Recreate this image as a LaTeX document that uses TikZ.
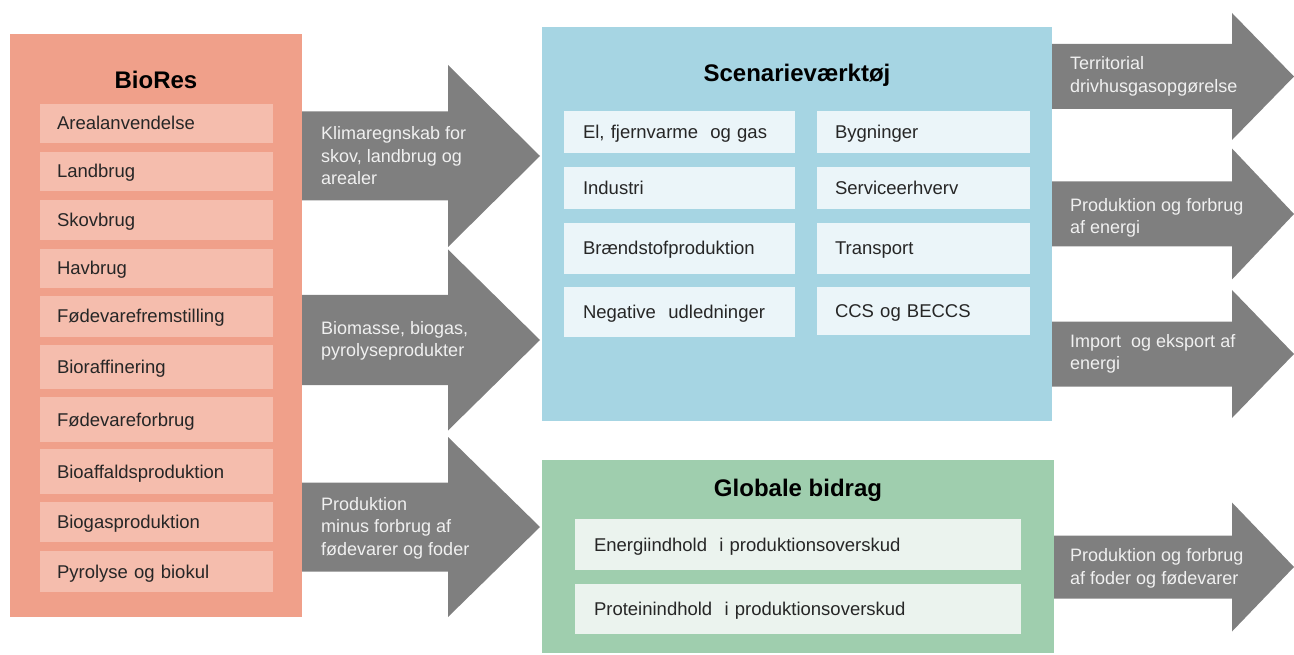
\documentclass[tikz,border=0pt]{standalone}
\usepackage{fontspec}
\setmainfont{Liberation Sans}

\definecolor{bioouter}{RGB}{240,160,138}
\definecolor{bioinner}{RGB}{245,189,173}
\definecolor{scenouter}{RGB}{166,213,227}
\definecolor{sceninner}{RGB}{235,245,249}
\definecolor{globouter}{RGB}{159,206,174}
\definecolor{globinner}{RGB}{235,243,238}
\definecolor{flowgray}{RGB}{127,127,127}
\definecolor{flowtext}{RGB}{240,240,240}

\tikzset{
  outerbox/.style = {inner sep=0pt},
  boxtitle/.style = {inner sep=0pt, font=\fontsize{24}{28}\selectfont\bfseries},
  item/.style     = {inner ysep=0pt, text height=15pt, text depth=2pt, align=left, text=black!85, font=\fontsize{18.5}{22}\selectfont},
  bioitem/.style  = {item, fill=bioinner, minimum width=233, text width=199pt, inner xsep=17pt},
  scenleft/.style = {item, fill=sceninner, minimum width=231, text width=193pt, inner xsep=19pt},
  scenright/.style= {item, fill=sceninner, minimum width=213, text width=177pt, inner xsep=18pt},
  globitem/.style = {item, fill=globinner, minimum width=446, text width=408pt, inner xsep=19pt},
  flow/.style     = {fill=flowgray},
  flowlabel/.style= {anchor=west, inner sep=0pt, align=left, text=flowtext, font=\fontsize{18}{22.5}\selectfont}
}

% block arrow: left x, head x, tip x, centre y, half body, half head
\newcommand{\flowarrow}[6]{%
  \fill[flow] (#1,#4-#5) -- (#2,#4-#5) -- (#2,#4-#6) -- (#3,#4)
    -- (#2,#4+#6) -- (#2,#4+#5) -- (#1,#4+#5) -- cycle;}

\begin{document}
\begin{tikzpicture}[x=1pt,y=-1pt]
\useasboundingbox (0,0) rectangle (1294,655);

% BioRes
\node[outerbox, fill=bioouter, minimum width=292, minimum height=583] (biores) at (156,325.5) {};
\node[boxtitle] (bioresTitle) at (156,80) {BioRes};
\node[bioitem, minimum height=39] (areal)    at (156.5,123.5) {Arealanvendelse};
\node[bioitem, minimum height=39] (landbrug) at (156.5,171.5) {Landbrug};
\node[bioitem, minimum height=40] (skovbrug) at (156.5,220)   {Skovbrug};
\node[bioitem, minimum height=39] (havbrug)  at (156.5,268.5) {Havbrug};
\node[bioitem, minimum height=41] (fremst)   at (156.5,316.5) {Fødevarefremstilling};
\node[bioitem, minimum height=44] (raffin)   at (156.5,367)   {Bioraffinering};
\node[bioitem, minimum height=45] (forbrug)  at (156.5,419.5) {Fødevareforbrug};
\node[bioitem, minimum height=45] (affald)   at (156.5,471.5) {Bioaffaldsproduktion};
\node[bioitem, minimum height=40] (biogas)   at (156.5,522)   {Biogasproduktion};
\node[bioitem, minimum height=41] (pyrolyse) at (156.5,571.5) {Pyrolyse og biokul};

% Scenarieværktøj
\node[outerbox, fill=scenouter, minimum width=510, minimum height=394] (scenarie) at (797,224) {};
\node[boxtitle] (scenarieTitle) at (797,75) {Scenarieværktøj};
\node[scenleft, minimum height=42]  (el)        at (679.5,132)   {El, fjernvarme\ \ og gas};
\node[scenright, minimum height=42] (bygning)   at (923.5,132)   {Bygninger};
\node[scenleft, minimum height=42]  (industri)  at (679.5,188)   {Industri};
\node[scenright, minimum height=42] (service)   at (923.5,188)   {Serviceerhverv};
\node[scenleft, minimum height=51]  (braend)    at (679.5,248.5) {Brændstofproduktion};
\node[scenright, minimum height=51] (transport) at (923.5,248.5) {Transport};
\node[scenleft, minimum height=50]  (negativ)   at (679.5,312)   {Negative\ \ udledninger};
\node[scenright, minimum height=48] (ccs)       at (923.5,311)   {CCS og BECCS};

% Globale bidrag
\node[outerbox, fill=globouter, minimum width=512, minimum height=193] (globale) at (798,556.5) {};
\node[boxtitle] (globaleTitle) at (798,490) {Globale bidrag};
\node[globitem, minimum height=51] (energiind)  at (798,544.5) {Energiindhold\ \ i produktionsoverskud};
\node[globitem, minimum height=50] (proteinind) at (798,609)   {Proteinindhold\ \ i produktionsoverskud};

% Arrows into the tools
\flowarrow{302}{448}{540}{156}{44.5}{91}
\flowarrow{302}{448}{540}{340}{45}{90.5}
\flowarrow{302}{448}{540}{527}{44.5}{90}
\node[flowlabel] (klima)     at (321,156) {Klimaregnskab for\\skov, landbrug og\\arealer};
\node[flowlabel] (biomasse)  at (321,341) {Biomasse, biogas,\\pyrolyseprodukter};
\node[flowlabel] (overskud)  at (321,528) {Produktion\\minus forbrug af\\fødevarer og foder};

% Arrows out of the tools
\flowarrow{1052}{1232}{1294}{76.5}{32.5}{63.5}
\flowarrow{1052}{1232}{1294}{214}{32.5}{65.5}
\flowarrow{1052}{1232}{1294}{354}{32.5}{64}
\flowarrow{1054}{1232}{1294}{567}{31.5}{64.5}
\node[flowlabel] (territorial) at (1070,76.5) {Territorial\\drivhusgasopgørelse};
\node[flowlabel] (energi)      at (1070,218)  {Produktion og forbrug\\af energi};
\node[flowlabel] (handel)      at (1070,354)  {Import\ \ og eksport af\\energi};
\node[flowlabel] (foder)       at (1070,568.5){Produktion og forbrug\\af foder og fødevarer};

\end{tikzpicture}
\end{document}
